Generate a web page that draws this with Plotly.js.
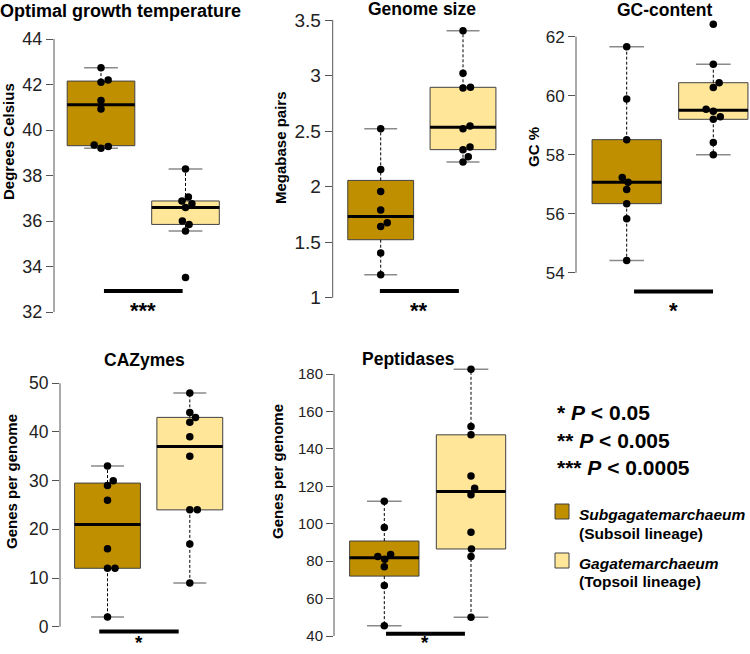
<!DOCTYPE html>
<html><head><meta charset="utf-8">
<script src="https://cdn.plot.ly/plotly-3.0.1.min.js"></script>
<style>body{margin:0;padding:0;background:#fff}#chart{width:750px;height:654px}</style>
</head><body><div id="chart"></div>
<script>
// ---------------- data ----------------
const groupNames = ["Subgagatemarchaeum", "Gagatemarchaeum"];
const groupLineages = ["(Subsoil lineage)", "(Topsoil lineage)"];
const panelTitles = ["Optimal growth temperature", "Genome size", "GC-content", "CAZymes", "Peptidases"];
const yTitles = ["Degrees Celsius", "Megabase pairs", "GC %", "Genes per genome", "Genes per genome"];
const significance = ["***", "**", "*", "*", "*"];
const pValueLegend = ["*", "**", "***"];
const pValueThresholds = ["0.05", "0.005", "0.0005"];

const tempSub = [42.74, 42.2, 42.1, 41.3, 40.92, 39.34, 39.28, 39.2];
const tempTop = [38.29, 37.05, 36.88, 36.76, 36.59, 36.0, 35.85, 35.56, 33.52];
const genomeSub = [2.52, 2.155, 1.957, 1.789, 1.675, 1.642, 1.402, 1.207];
const genomeTop = [3.404, 3.02, 2.894, 2.888, 2.546, 2.522, 2.357, 2.333, 2.27, 2.222];
const gcSub = [61.66, 59.89, 58.51, 57.23, 57.07, 56.82, 56.34, 55.83, 54.41];
const gcTop = [62.42, 61.07, 60.44, 60.28, 59.54, 59.47, 59.29, 59.2, 58.41, 58.0];
const cazySub = [33, 30, 29, 26, 16, 12, 12, 2];
const cazyTop = [48, 44, 43, 42, 39, 35, 24, 24, 17, 9];
const peptSub = [112, 98, 83.5, 82.5, 81, 77, 67, 45.5];
const peptTop = [182.5, 152, 147.5, 125.5, 119, 115.5, 95.5, 86.5, 82.5, 50];

const tempTicks = [32, 34, 36, 38, 40, 42, 44];
const genomeTicks = [1, 1.5, 2, 2.5, 3, 3.5];
const gcTicks = [54, 56, 58, 60, 62];
const cazyTicks = [0, 10, 20, 30, 40, 50];
const peptTicks = [40, 60, 80, 100, 120, 140, 160, 180];

const significanceLevels = [32.92, 1.06, 53.36, -1.0, 41.2];

// ---------------- layout specs (pixels) ----------------
const W = 750, H = 654;
const COLORS = ["#BF8F00", "#FFE699"];
const panels = [
  {sub: tempSub, top: tempTop, ticks: tempTicks, tickSize: 18, titleSize: 18, left: 54, c1: 101, c2: 185.5, right: 240, tTopPx: 39, tBotPx: 312, domTop: 22, domBot: 318, bar: [1.035, 1.966], title: [120.7, 11], ytitle: [8, 142], starsTop: 296, bottomRow: false},
  {sub: genomeSub, top: genomeTop, ticks: genomeTicks, tickSize: 19, titleSize: 17.5, left: 332.7, c1: 380.7, c2: 463, right: 505, tTopPx: 20, tBotPx: 297.7, domTop: 12, domBot: 318, bar: [0.99, 1.95], title: [421.7, 9], ytitle: [280, 148], starsTop: 296, bottomRow: false},
  {sub: gcSub, top: gcTop, ticks: gcTicks, tickSize: 17, titleSize: 17.5, left: 576, c1: 626.7, c2: 713.3, right: 749, tTopPx: 36.7, tBotPx: 272.7, domTop: 12, domBot: 318, bar: [1.085, 1.997], title: [664.3, 9.5], ytitle: [533, 147], starsTop: 296, bottomRow: false},
  {sub: cazySub, top: cazyTop, ticks: cazyTicks, tickSize: 17.5, titleSize: 17.5, left: 60, c1: 107.5, c2: 189.8, right: 240, tTopPx: 383.3, tBotPx: 626.7, domTop: 370, domBot: 654, bar: [0.90, 1.865], title: [144, 359.5], ytitle: [12, 482], bottomRow: true},
  {sub: peptSub, top: peptTop, ticks: peptTicks, tickSize: 15, titleSize: 17.5, left: 334, c1: 384.3, c2: 471, right: 510, tTopPx: 374, tBotPx: 636, domTop: 362, domBot: 654, bar: [1.02, 1.93], title: [408, 359], ytitle: [277, 472], bottomRow: true}
];

function fivenum(arr) {
  const x = arr.slice().sort((a, b) => a - b);
  const n = x.length;
  const n4 = Math.floor((n + 3) / 2) / 2;
  const d = [1, n4, (n + 1) / 2, n + 1 - n4, n];
  return d.map(v => 0.5 * (x[Math.floor(v) - 1] + x[Math.ceil(v) - 1]));
}
function boxStats(arr) {
  const f = fivenum(arr);
  const q1 = f[1], med = f[2], q3 = f[3], iqr = q3 - q1;
  const inside = arr.filter(v => v >= q1 - 1.5 * iqr && v <= q3 + 1.5 * iqr);
  return {q1, med, q3, lo: Math.min(...inside), hi: Math.max(...inside)};
}
function swarm(vals, pxPerY, d) {
  const idx = vals.map((v, i) => i).sort((a, b) => vals[a] - vals[b]);
  const placed = [], xs = new Array(vals.length);
  for (const i of idx) {
    const y = vals[i] * pxPerY;
    const cands = [0];
    for (const p of placed) {
      const dy = Math.abs(p.y - y);
      if (dy < d) { const dx = Math.sqrt(d * d - dy * dy); cands.push(p.x + dx, p.x - dx); }
    }
    cands.sort((a, b) => (Math.abs(a) - Math.abs(b)) || (b - a));
    let chosen = 0;
    for (const c of cands) {
      if (placed.every(p => (p.x - c) ** 2 + (p.y - y) ** 2 >= d * d - 1e-6)) { chosen = c; break; }
    }
    placed.push({x: chosen, y}); xs[i] = chosen;
  }
  return xs;
}
const px = x => x / W;
const py = y => 1 - y / H;

const traces = [], shapes = [], annotations = [];
const FONT = "Liberation Sans, Arial, sans-serif";
const layout = {
  width: W, height: H, margin: {l: 0, r: 0, t: 0, b: 0},
  paper_bgcolor: "#fff", plot_bgcolor: "rgba(0,0,0,0)", showlegend: false,
  font: {family: FONT, color: "#000"}
};

panels.forEach((p, k) => {
  const sfx = k === 0 ? "" : String(k + 1);
  const xa = "x" + sfx, ya = "y" + sfx;
  const unit = p.c2 - p.c1;
  const xmin = 1 - (p.c1 - p.left) / unit, xmax = 2 + (p.right - p.c2) / unit;
  const tTop = Math.max(...p.ticks), tBot = Math.min(...p.ticks);
  const pxPerY = (p.tBotPx - p.tTopPx) / (tTop - tBot);
  const yTop = tTop + (p.tTopPx - p.domTop) / pxPerY;
  const yBot = tBot - (p.domBot - p.tBotPx) / pxPerY;
  layout["xaxis" + sfx] = {domain: [px(p.left), px(p.right)], range: [xmin, xmax], visible: false, fixedrange: true, anchor: ya};
  layout["yaxis" + sfx] = {domain: [py(p.domBot), py(p.domTop)], range: [yBot, yTop], anchor: xa,
    tickmode: "array", tickvals: p.ticks, ticktext: p.ticks.map(String), ticks: "outside", ticklen: 7, tickwidth: 1,
    tickcolor: "#555", showline: false, showgrid: false, zeroline: false,
    tickfont: {size: p.tickSize, color: "#222", family: FONT}, fixedrange: true};
  // R-style axis line spanning the tick range
  shapes.push({type: "line", xref: xa + " domain", yref: ya, x0: 0, x1: 0, y0: tBot, y1: tTop, line: {color: "#555", width: 1}});

  [p.sub, p.top].forEach((vals, g) => {
    const c = g + 1;
    const s = boxStats(vals);
    traces.push({type: "box", x: [c], q1: [s.q1], median: [s.med], q3: [s.q3], lowerfence: [s.q1], upperfence: [s.q3],
      width: 0.8, whiskerwidth: 0, boxpoints: false, fillcolor: COLORS[g], line: {color: "#404040", width: 1},
      xaxis: xa, yaxis: ya, hoverinfo: "skip"});
    traces.push({type: "scatter", mode: "lines", x: [c, c], y: [s.q3, s.hi], line: {color: "#000", width: 1, dash: "3px,2px"}, xaxis: xa, yaxis: ya, hoverinfo: "skip"});
    traces.push({type: "scatter", mode: "lines", x: [c, c], y: [s.q1, s.lo], line: {color: "#000", width: 1, dash: "3px,2px"}, xaxis: xa, yaxis: ya, hoverinfo: "skip"});
    traces.push({type: "scatter", mode: "lines", x: [c - 0.2, c + 0.2], y: [s.hi, s.hi], line: {color: "#8a8a8a", width: 1.5}, xaxis: xa, yaxis: ya, hoverinfo: "skip"});
    traces.push({type: "scatter", mode: "lines", x: [c - 0.2, c + 0.2], y: [s.lo, s.lo], line: {color: "#8a8a8a", width: 1.5}, xaxis: xa, yaxis: ya, hoverinfo: "skip"});
    traces.push({type: "scatter", mode: "lines", x: [c - 0.4, c + 0.4], y: [s.med, s.med], line: {color: "#000", width: 3}, xaxis: xa, yaxis: ya, hoverinfo: "skip"});
    const offs = swarm(vals, pxPerY, 7.5);
    traces.push({type: "scatter", mode: "markers", x: offs.map(o => c + o / unit), y: vals,
      marker: {color: "#000", size: 7.5, line: {width: 0}}, cliponaxis: false, xaxis: xa, yaxis: ya, hoverinfo: "skip"});
  });
  // significance bar and stars
  shapes.push({type: "line", xref: xa, yref: ya, x0: p.bar[0], x1: p.bar[1], y0: significanceLevels[k], y1: significanceLevels[k], line: {color: "#000", width: 4}});
  const starX = (p.bar[0] + p.bar[1]) / 2;
  if (p.bottomRow) {
    annotations.push({xref: xa, yref: "paper", x: starX, y: 0, text: "<b>" + significance[k] + "</b>",
      showarrow: false, xanchor: "center", yanchor: "bottom", borderpad: 0, font: {size: 19, color: "#000"}});
  } else {
    annotations.push({xref: xa, yref: "paper", x: starX, y: py(p.starsTop), text: "<b>" + significance[k] + "</b>",
      showarrow: false, xanchor: "center", yanchor: "top", height: 14, valign: "top", font: {size: 22, color: "#000"}});
  }
  // panel title
  annotations.push({xref: "paper", yref: "paper", x: px(p.title[0]), y: py(p.title[1]), text: "<b>" + panelTitles[k] + "</b>",
    showarrow: false, xanchor: "center", yanchor: "middle", font: {size: p.titleSize, color: "#000"}});
  // y-axis title
  annotations.push({xref: "paper", yref: "paper", x: px(p.ytitle[0]), y: py(p.ytitle[1]), text: "<b>" + yTitles[k] + "</b>",
    showarrow: false, xanchor: "center", yanchor: "middle", textangle: -90, font: {size: 15, color: "#000"}});
});

// p-value key
const pRows = [412, 440, 467];
pValueLegend.forEach((st, i) => {
  annotations.push({xref: "paper", yref: "paper", x: px(555), y: py(pRows[i]), xanchor: "left", yanchor: "middle", showarrow: false,
    text: "<b>" + st + " <i>P</i> &lt; " + pValueThresholds[i] + "</b>", font: {size: 21, color: "#000"}});
});
// group key
const sqTop = [504, 553];
const nameRows = [514, 563], linRows = [533, 581];
groupNames.forEach((nm, g) => {
  shapes.push({type: "rect", xref: "paper", yref: "paper", x0: px(555), x1: px(569), y0: py(sqTop[g] + 15), y1: py(sqTop[g]),
    fillcolor: COLORS[g], line: {color: "#404040", width: 1}});
  annotations.push({xref: "paper", yref: "paper", x: px(577), y: py(nameRows[g]), xanchor: "left", yanchor: "middle", showarrow: false,
    text: "<b><i>" + nm + "</i></b>", font: {size: 15.5, color: "#000"}});
  annotations.push({xref: "paper", yref: "paper", x: px(577), y: py(linRows[g]), xanchor: "left", yanchor: "middle", showarrow: false,
    text: "<b>" + groupLineages[g] + "</b>", font: {size: 15.5, color: "#000"}});
});

layout.shapes = shapes;
layout.annotations = annotations;
Plotly.newPlot("chart", traces, layout, {staticPlot: true, displayModeBar: false});
</script>
</body></html>
